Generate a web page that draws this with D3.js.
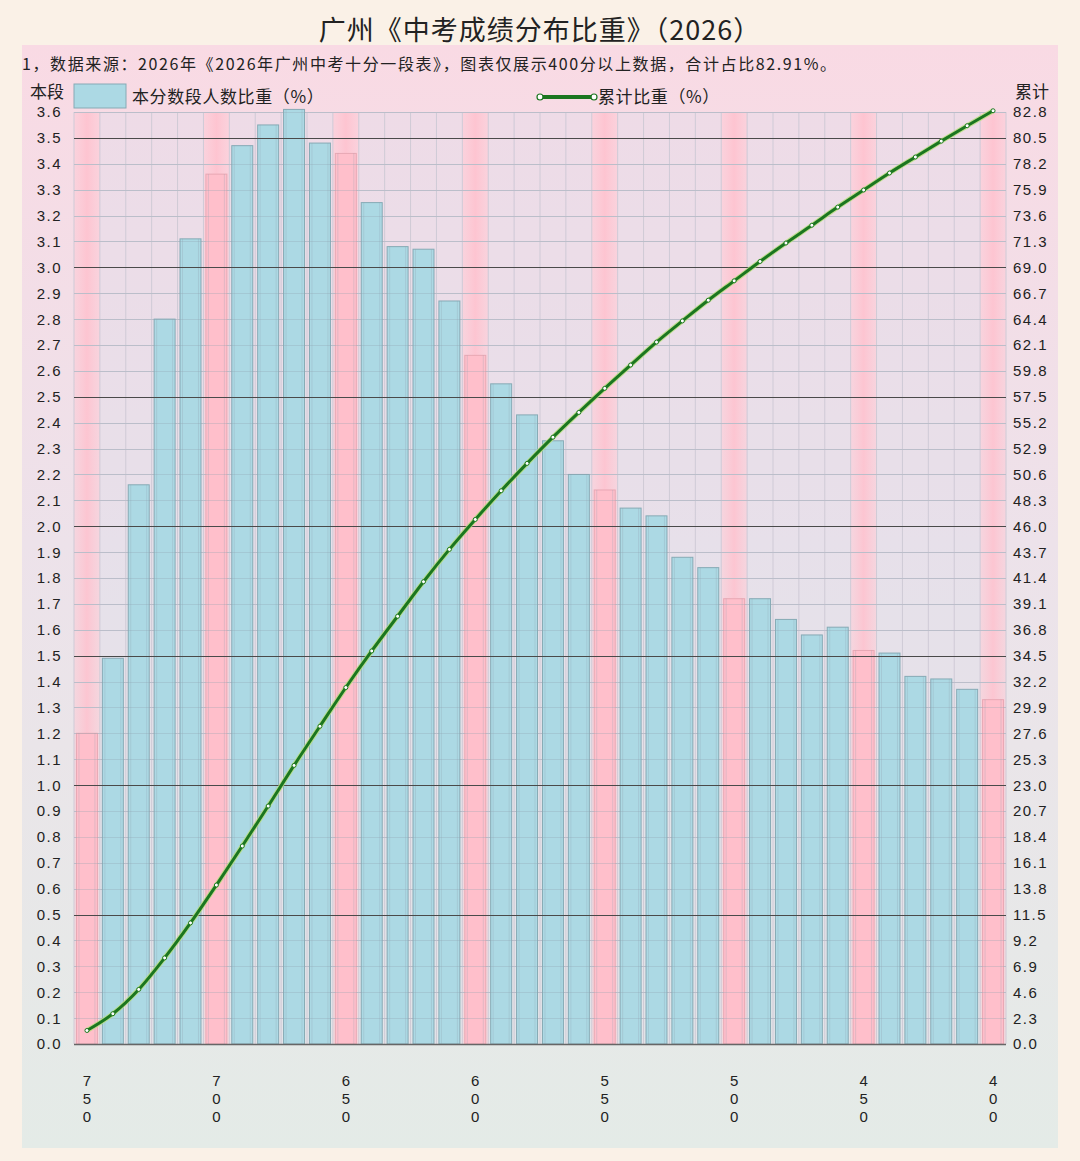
<!DOCTYPE html>
<html><head><meta charset="utf-8">
<script src="https://cdn.jsdelivr.net/npm/d3@7"></script>
<style>
html,body{margin:0;padding:0;background:#faf1e7;}
svg{display:block;font-family:"Noto Sans CJK SC","Noto Sans",sans-serif;}
</style></head>
<body><svg id="c" width="1080" height="1161"></svg>
<script>
// ---- data ----
const scores = [750,740,730,720,710,700,690,680,670,660,650,640,630,620,610,600,590,580,570,560,550,540,530,520,510,500,490,480,470,460,450,440,430,420,410,400];
const share = [1.20,1.49,2.16,2.80,3.11,3.36,3.47,3.55,3.61,3.48,3.44,3.25,3.08,3.07,2.87,2.66,2.55,2.43,2.33,2.20,2.14,2.07,2.04,1.88,1.84,1.72,1.72,1.64,1.58,1.61,1.52,1.51,1.42,1.41,1.37,1.33];
const cumulative = [1.20,2.69,4.85,7.65,10.76,14.12,17.59,21.14,24.75,28.23,31.67,34.92,38.00,41.07,43.94,46.60,49.15,51.58,53.91,56.11,58.25,60.32,62.36,64.24,66.08,67.80,69.52,71.16,72.74,74.35,75.87,77.38,78.80,80.21,81.58,82.91];
const leftTicks = ["0.0","0.1","0.2","0.3","0.4","0.5","0.6","0.7","0.8","0.9","1.0","1.1","1.2","1.3","1.4","1.5","1.6","1.7","1.8","1.9","2.0","2.1","2.2","2.3","2.4","2.5","2.6","2.7","2.8","2.9","3.0","3.1","3.2","3.3","3.4","3.5","3.6"];
const rightTicks = ["0.0","2.3","4.6","6.9","9.2","11.5","13.8","16.1","18.4","20.7","23.0","25.3","27.6","29.9","32.2","34.5","36.8","39.1","41.4","43.7","46.0","48.3","50.6","52.9","55.2","57.5","59.8","62.1","64.4","66.7","69.0","71.3","73.6","75.9","78.2","80.5","82.8"];
const labeledScores = [750,700,650,600,550,500,450,400];
const title = "广州《中考成绩分布比重》（2026）";
const subtitle = "1，数据来源：2026年《2026年广州中考十分一段表》，图表仅展示400分以上数据，合计占比82.91%。";
const legendBar = "本分数段人数比重（%）";
const legendLine = "累计比重（%）";

// ---- layout ----
const L = 74, R = 1006, T = 112, B = 1044;
const NUMFONT = "'Liberation Sans', Arial, sans-serif";
const svg = d3.select("#c");
const defs = svg.append("defs");
const pg = defs.append("linearGradient").attr("id","panel").attr("x1",0).attr("y1",0).attr("x2",0).attr("y2",1);
pg.append("stop").attr("offset","0").attr("stop-color","#f9dae4");
pg.append("stop").attr("offset","0.45").attr("stop-color","#ede2ea");
pg.append("stop").attr("offset","1").attr("stop-color","#e4ebe7");
const pk = defs.append("linearGradient").attr("id","pinkcol").attr("x1",0).attr("y1",0).attr("x2",1).attr("y2",0);
pk.append("stop").attr("offset","0").attr("stop-color","#ffc6d2").attr("stop-opacity",0.45);
pk.append("stop").attr("offset","0.5").attr("stop-color","#ffc0cd").attr("stop-opacity",0.85);
pk.append("stop").attr("offset","1").attr("stop-color","#ffc6d2").attr("stop-opacity",0.45);

svg.append("rect").attr("x",22).attr("y",45).attr("width",1036).attr("height",1103).attr("fill","url(#panel)");

const x = d3.scaleBand().domain(scores).range([L,R]).paddingInner(0.19).paddingOuter(0.095);
const step = x.step(), bw = x.bandwidth(), off = (step-bw)/2;
const y = d3.scaleLinear().domain([0,3.6]).range([B,T]);
const y2 = d3.scaleLinear().domain([0,82.8]).range([B,T]);
const isPink = d => d % 50 === 0;

// column backgrounds
svg.append("g").selectAll("rect").data(scores).join("rect")
  .attr("x",d=>x(d)-off).attr("y",T).attr("width",step).attr("height",B-T)
  .attr("fill",d=>isPink(d)?"url(#pinkcol)":"rgba(222,220,236,0.35)");

// light grid
const grid = svg.append("g");
grid.selectAll("line.h").data(leftTicks).join("line")
  .attr("x1",L).attr("x2",R).attr("y1",d=>Math.round(y(+d))+0.5).attr("y2",d=>Math.round(y(+d))+0.5)
  .attr("stroke","#cfcad6").attr("stroke-width",1);
grid.selectAll("line.v").data(scores.concat(["end"])).join("line")
  .attr("x1",(d,i)=>L+i*step).attr("x2",(d,i)=>L+i*step).attr("y1",T).attr("y2",B)
  .attr("stroke","#cfcad6").attr("stroke-width",1);

// bars
svg.append("g").selectAll("rect").data(scores).join("rect")
  .attr("x",d=>x(d)).attr("width",bw)
  .attr("y",(d,i)=>y(share[i])).attr("height",(d,i)=>B-y(share[i]))
  .attr("fill",d=>isPink(d)?"#ffbfcb":"#acd9e4")
  .attr("stroke",d=>isPink(d)?"#e8a8b4":"#86aab5").attr("stroke-width",1);

// faint grid over bars
svg.append("g").selectAll("line").data(leftTicks).join("line")
  .attr("x1",L).attr("x2",R).attr("y1",d=>Math.round(y(+d))+0.5).attr("y2",d=>Math.round(y(+d))+0.5)
  .attr("stroke","#8fa2b0").attr("stroke-opacity",0.3).attr("stroke-width",1);
svg.append("g").selectAll("line").data(scores).join("line")
  .attr("x1",d=>x(d)+2.5).attr("x2",d=>x(d)+2.5).attr("y1",(d,i)=>y(share[i])).attr("y2",B)
  .attr("stroke","#8fa2b0").attr("stroke-opacity",0.28);
svg.append("g").selectAll("line").data(scores).join("line")
  .attr("x1",d=>x(d)+bw-2.5).attr("x2",d=>x(d)+bw-2.5).attr("y1",(d,i)=>y(share[i])).attr("y2",B)
  .attr("stroke","#8fa2b0").attr("stroke-opacity",0.28);

// dark grid every 0.5
svg.append("g").selectAll("line").data(leftTicks.filter(d=>Math.round(+d*10)%5===0 && +d>0))
  .join("line")
  .attr("x1",L).attr("x2",R).attr("y1",d=>Math.round(y(+d))+0.5).attr("y2",d=>Math.round(y(+d))+0.5)
  .attr("stroke","#4a4a4a").attr("stroke-width",1);
svg.append("line").attr("x1",L).attr("x2",R).attr("y1",B+0.5).attr("y2",B+0.5).attr("stroke","#666").attr("stroke-width",1.5);

// left axis labels
svg.append("g").selectAll("text").data(leftTicks).join("text")
  .attr("x",62).attr("y",d=>y(+d)).attr("dy","0.36em").attr("text-anchor","end")
  .attr("font-family",NUMFONT).attr("font-size",15).attr("letter-spacing",1.5).attr("fill","#222").text(d=>d);
// right axis labels
svg.append("g").selectAll("text").data(rightTicks).join("text")
  .attr("x",1013).attr("y",d=>y2(+d)).attr("dy","0.36em").attr("text-anchor","start")
  .attr("font-family",NUMFONT).attr("font-size",15).attr("letter-spacing",1.5).attr("fill","#222").text(d=>d);

// x labels (vertical digits)
const xl = svg.append("g").selectAll("text").data(labeledScores).join("text")
  .attr("text-anchor","middle").attr("font-family",NUMFONT).attr("font-size",15).attr("fill","#222");
xl.each(function(d){
  const t = d3.select(this);
  String(d).split("").forEach((ch,k)=>{
    t.append("tspan").attr("x",x(d)+bw/2).attr("y",1086+k*18).text(ch);
  });
});

// cumulative line
const line = d3.line().x((d,i)=>x(scores[i])+bw/2).y(d=>y2(d)).curve(d3.curveMonotoneX);
svg.append("path").datum(cumulative).attr("d",line).attr("fill","none")
  .attr("stroke","#b8e07a").attr("stroke-width",5).attr("stroke-opacity",0.8);
svg.append("path").datum(cumulative).attr("d",line).attr("fill","none")
  .attr("stroke","#1b7620").attr("stroke-width",3);
svg.append("g").selectAll("circle").data(cumulative).join("circle")
  .attr("cx",(d,i)=>x(scores[i])+bw/2).attr("cy",d=>y2(d)).attr("r",2)
  .attr("fill","#fff").attr("stroke","#1b7620").attr("stroke-width",1);

// titles
svg.append("text").attr("x",540).attr("y",40).attr("text-anchor","middle")
  .attr("font-size",27).attr("letter-spacing",1).attr("fill","#222").text(title);
svg.append("text").attr("x",22).attr("y",70).attr("font-size",16).attr("letter-spacing",1.6).attr("fill","#222").text(subtitle);

// legend
svg.append("text").attr("x",30).attr("y",98).attr("font-size",17).attr("fill","#222").text("本段");
svg.append("rect").attr("x",74).attr("y",84).attr("width",52).attr("height",24)
  .attr("fill","#acd9e4").attr("stroke","#86aab5");
svg.append("text").attr("x",132).attr("y",103).attr("font-size",17).attr("letter-spacing",0.6).attr("fill","#222").text(legendBar);
svg.append("line").attr("x1",540).attr("x2",594).attr("y1",97).attr("y2",97).attr("stroke","#1b7620").attr("stroke-width",4);
[540,594].forEach(cx=>svg.append("circle").attr("cx",cx).attr("cy",97).attr("r",3)
  .attr("fill","#fff").attr("stroke","#1b7620").attr("stroke-width",1.2));
svg.append("text").attr("x",598).attr("y",103).attr("font-size",17).attr("letter-spacing",0.6).attr("fill","#222").text(legendLine);
svg.append("text").attr("x",1015).attr("y",98).attr("font-size",17).attr("fill","#222").text("累计");
</script></body></html>
